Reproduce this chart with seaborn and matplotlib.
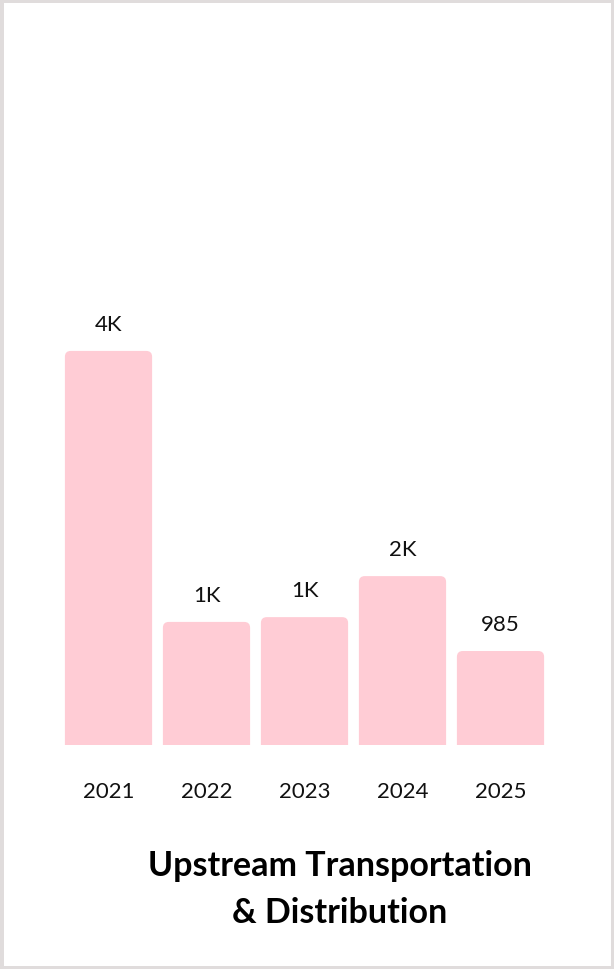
import matplotlib
matplotlib.use("Agg")
import matplotlib.pyplot as plt
import seaborn as sns
import pandas as pd
from matplotlib.patches import FancyBboxPatch, Rectangle

years = ["2021", "2022", "2023", "2024", "2025"]
values = [4130, 1290, 1340, 1770, 985]
labels = ["4K", "1K", "1K", "2K", "985"]

sns.set_style("white")
plt.rcParams['font.family'] = ['Lato', 'DejaVu Sans']

W, H = 614, 970
fig = plt.figure(figsize=(W/100, H/100), dpi=100)
fig.patches.append(Rectangle((0, 0), 1, 1, transform=fig.transFigure, fill=False,
                             edgecolor="#e0dcdc", linewidth=5))
left, right, bottom, top = 59.5, 549.5, 746, 100
ax = fig.add_axes([left/W, 1-bottom/H, (right-left)/W, (bottom-top)/H])
df = pd.DataFrame({"year": years, "value": values})
sns.barplot(data=df, x="year", y="value", color="#ffccd5", width=0.89, ax=ax, saturation=1)
ymax = 6770
ax.set_ylim(0, ymax)
ax.set_xlim(-0.5, 4.5)
aspect = (ymax/(bottom-top)) / (5/(right-left))
for p in list(ax.patches):
    x, w, h = p.get_x(), p.get_width(), p.get_height()
    fb = FancyBboxPatch((x, -300), w, h+300,
                        boxstyle="round,pad=0,rounding_size=0.06",
                        mutation_aspect=aspect, facecolor="#ffccd5",
                        edgecolor="none", clip_on=True)
    p.remove()
    ax.add_patch(fb)
for i, (v, l) in enumerate(zip(values, labels)):
    ax.text(i, v + 27*ymax/(bottom-top), l, ha="center", va="center", fontsize=16, color="#111")
ax.set_xlabel(""); ax.set_ylabel("")
ax.set_yticks([])
ax.tick_params(axis="x", length=0, labelsize=16, pad=26, labelcolor="#111")
for s in ax.spines.values():
    s.set_visible(False)
fig.text(340/W, 1-866/H, "Upstream Transportation", ha="center", va="center",
         fontsize=24.5, fontweight="bold", color="#000")
fig.text(340/W, 1-913/H, "& Distribution", ha="center", va="center",
         fontsize=24.5, fontweight="bold", color="#000")
fig.savefig("out.png", dpi=100)
